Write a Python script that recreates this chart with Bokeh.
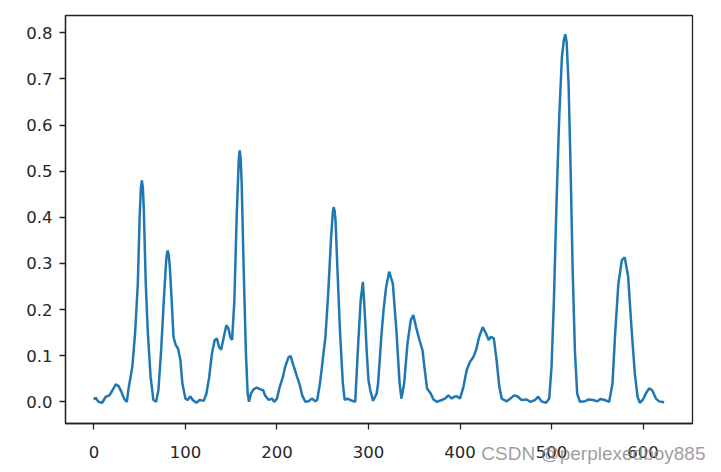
from bokeh.plotting import figure
from bokeh.models import FixedTicker, Range1d, Title
from bokeh.embed import file_html
from bokeh.resources import INLINE

# Sample index (x) and value (y)
x_vals = [0, 2, 5, 9, 13, 17, 20, 24, 27, 30, 33, 36, 38, 42, 45, 48, 50, 51.3, 52.4, 53.5,
          54.5, 56.7,
          59, 62, 65, 68, 70.5, 73.5, 76.4, 79, 79.9, 80.7, 81.8, 83, 85, 87, 89.5, 92, 94.5,
          96.7,
          100, 102.5, 105.5, 108, 112, 115.6, 120, 123, 126, 129, 132, 134.5, 136.7, 139,
          142, 144.7, 147, 149, 151, 153.5, 156, 158.3, 159.3, 160.3, 161.5, 163.6, 166,
          168, 169.5,
          171.6, 174.5, 178, 182, 185, 187, 191, 194.5, 197, 200, 203, 206.5, 209, 212.7,
          215, 218, 222, 225, 227.6, 231, 234.5, 238, 242, 244, 247, 250, 253, 256, 259,
          261, 262, 263, 264, 266, 269, 272, 274, 277, 280, 285.5, 289, 291.5, 293.9,
          296.4, 298,
          300, 302, 305, 309, 310.5, 314, 316.5, 319.3, 322.6, 326.6, 330.5, 334, 336,
          339, 342.6, 346.2, 349, 352, 355.7, 359, 362, 364, 368, 371, 374.5, 380, 383.7,
          387.3, 391, 393.5, 396.4, 400, 403.7, 407.3, 411, 414.6, 417.5, 421, 424.8,
          428.4, 431.3, 433.9, 437, 440, 443, 445.5, 451, 455, 459, 462.6, 467.3, 472.8,
          477, 482, 485.5, 489, 494, 497.5, 500, 502.6, 505.5, 508.4, 511.3, 513.5, 515,
          516.5, 518.6,
          520.8, 523, 525.5, 528, 531, 536.4, 540, 545.5, 550, 553.5, 558, 563, 566.6,
          569.5, 573, 576.8, 580, 583.7, 587.3, 591, 594, 596.4, 600, 603, 606.6, 610,
          614, 617.6, 623]
y_vals = [0.005, 0.009, 0.0, -0.002, 0.011, 0.014, 0.024, 0.038, 0.034, 0.022, 0.007, 0.0,
          0.03, 0.076, 0.148, 0.256, 0.40, 0.462, 0.48, 0.465,
          0.42, 0.256,
          0.148, 0.054, 0.004, 0.0, 0.025, 0.112, 0.22, 0.307, 0.322, 0.328, 0.318, 0.292,
          0.22, 0.14, 0.123, 0.115, 0.09,
          0.04,
          0.007, 0.004, 0.012, 0.004, -0.002, 0.004, 0.002, 0.018, 0.054, 0.105, 0.134,
          0.137, 0.119, 0.113,
          0.141, 0.166, 0.159, 0.141, 0.134, 0.22, 0.40, 0.525, 0.545, 0.53, 0.473, 0.292,
          0.112, 0.018,
          0.0,
          0.018, 0.027, 0.031, 0.027, 0.025, 0.014, 0.004, 0.007, 0.0, 0.007, 0.032, 0.054,
          0.076, 0.097,
          0.099, 0.079, 0.054, 0.036, 0.014, 0.0, 0.001, 0.007, 0.001, 0.004, 0.04, 0.09,
          0.141, 0.235, 0.35,
          0.41, 0.422, 0.414, 0.394, 0.292, 0.148, 0.04, 0.004, 0.007, 0.004, 0.0, 0.134,
          0.22, 0.26,
          0.177, 0.112,
          0.047, 0.025, 0.002, 0.018, 0.04, 0.14, 0.2, 0.249, 0.282, 0.256, 0.155, 0.04,
          0.007,
          0.04, 0.126, 0.177, 0.188, 0.162, 0.134, 0.112, 0.061, 0.029, 0.018, 0.005, 0.0,
          0.004, 0.007,
          0.014, 0.007, 0.011, 0.012, 0.007, 0.032, 0.069, 0.087, 0.097, 0.112, 0.141,
          0.162,
          0.148, 0.134, 0.141, 0.137, 0.09, 0.032, 0.007, 0.001, 0.007, 0.014, 0.012, 0.004,
          0.005,
          0.0, 0.004, 0.011, 0.001, -0.002, 0.007, 0.076, 0.22, 0.437, 0.617, 0.747, 0.785,
          0.797, 0.78,
          0.69,
          0.509, 0.292, 0.112, 0.018, 0.0, 0.001, 0.005, 0.004, 0.001, 0.006, 0.004, 0.0,
          0.04,
          0.148, 0.256, 0.307, 0.313, 0.271, 0.162, 0.061, 0.011, -0.002, 0.005, 0.018,
          0.029, 0.025,
          0.007, 0.001, -0.001]

x_ticks = [0, 100, 200, 300, 400, 500, 600]
y_ticks = [0.0, 0.1, 0.2, 0.3, 0.4, 0.5, 0.6, 0.7, 0.8]
y_tick_labels = ["0.0", "0.1", "0.2", "0.3", "0.4", "0.5", "0.6", "0.7", "0.8"]
watermark = "CSDN @perplexedboy885"

W, H = 713, 468
p = figure(width=W, height=H, output_backend="svg", toolbar_location=None,
           x_range=Range1d(-31, 654), y_range=Range1d(-0.047, 0.8375),
           min_border_left=65, min_border_right=21, min_border_top=15, min_border_bottom=45)
p.background_fill_color = "white"
p.border_fill_color = "white"
p.outline_line_color = "#222222"
p.outline_line_width = 1.3
p.grid.visible = False

p.line(x_vals, y_vals, line_color="#1f77b4", line_width=2.5)

for ax in (p.xaxis[0], p.yaxis[0]):
    ax.axis_line_color = "#222222"
    ax.axis_line_width = 1.3
    ax.major_tick_line_color = "#222222"
    ax.major_tick_line_width = 1.3
    ax.major_tick_out = 6
    ax.major_tick_in = 0
    ax.minor_tick_line_color = None
    ax.major_label_text_font = "DejaVu Sans"
    ax.major_label_text_font_size = "16.5px"
    ax.major_label_text_color = "#262626"
    ax.major_label_standoff = 7

p.xaxis.major_label_standoff = 16

p.xaxis.ticker = FixedTicker(ticks=x_ticks)
p.yaxis.ticker = FixedTicker(ticks=y_ticks)
p.yaxis.major_label_overrides = {t: l for t, l in zip(y_ticks, y_tick_labels)}

p.add_layout(Title(text=watermark, align="right", offset=-13, standoff=-36,
                   vertical_align="top",
                   text_font="Liberation Sans", text_font_size="19px",
                   text_font_style="normal", text_color="#8c8c8c", text_alpha=0.85),
             "below")

open("out.html", "w").write(file_html(p, INLINE))
